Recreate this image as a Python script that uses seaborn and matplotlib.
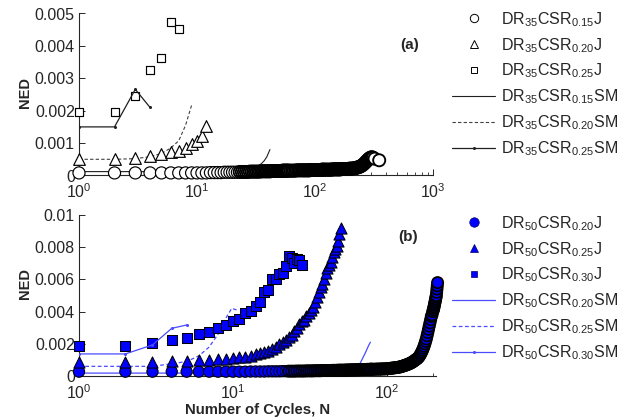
import matplotlib
matplotlib.use("Agg")
import matplotlib.pyplot as plt
from matplotlib.lines import Line2D
from matplotlib.ticker import NullFormatter, FuncFormatter
import seaborn as sns

# ---------------- data: panel (a) DR35 ----------------
a_cyc_015J = [1, 2, 3, 4, 5, 6, 7, 8, 9, 10, 11, 12, 13, 14, 15, 16, 17, 18, 19, 20,
              21, 22, 23, 24, 25, 26, 27, 28, 29, 30, 31, 32, 33, 34, 35, 36, 37, 38, 39, 40,
              41, 42, 43, 44, 45, 46, 47, 48, 49, 50, 51, 52, 53, 54, 55, 56, 57, 58, 59, 60,
              62, 64, 66, 68, 70, 72, 74, 76, 78, 80,
              82, 84, 86, 88, 90, 92, 94, 96, 98, 100,
              102, 104, 106, 108, 110, 112, 114, 116, 118, 120,
              123, 126, 129, 132, 135, 138, 141, 144, 147, 150,
              153, 156, 159, 162, 165, 168, 171, 174, 177, 180,
              183, 186, 189, 192, 195, 198, 201,
              205, 210, 215, 220, 225, 230, 235, 240, 245, 250,
              255, 260, 265, 270, 275, 280, 285, 290, 295, 300,
              305, 310, 320, 350]
a_ned_015J = [0.00008, 0.00008, 0.00008, 0.00008, 0.00008, 0.00008, 0.00008, 0.00008, 0.00008, 0.00008,
              0.00008, 0.00008, 0.00009, 0.00009, 0.00009, 0.00009, 0.00010, 0.00010, 0.00010, 0.00010,
              0.00010, 0.00010, 0.00011, 0.00011, 0.00011, 0.00011, 0.00011, 0.00012, 0.00012, 0.00012,
              0.00012, 0.00012, 0.00012, 0.00012, 0.00013, 0.00013, 0.00013, 0.00013, 0.00013, 0.00013,
              0.00013, 0.00013, 0.00014, 0.00014, 0.00014, 0.00014, 0.00014, 0.00014, 0.00014, 0.00014,
              0.00014, 0.00014, 0.00015, 0.00015, 0.00015, 0.00015, 0.00015, 0.00015, 0.00015, 0.00015,
              0.00015, 0.00015, 0.00015, 0.00015, 0.00016, 0.00016, 0.00016, 0.00016, 0.00016, 0.00016,
              0.00016, 0.00016, 0.00016, 0.00016, 0.00016, 0.00017, 0.00017, 0.00017, 0.00017, 0.00017,
              0.00017, 0.00017, 0.00017, 0.00017, 0.00017, 0.00017, 0.00018, 0.00018, 0.00018, 0.00018,
              0.00018, 0.00018, 0.00018, 0.00018, 0.00018, 0.00018, 0.00019, 0.00019, 0.00019, 0.00019,
              0.00019, 0.00019, 0.00019, 0.00019, 0.00019, 0.00020, 0.00020, 0.00020, 0.00020, 0.00020,
              0.00020, 0.00020, 0.00020, 0.00020, 0.00021, 0.00021, 0.00021,
              0.00021, 0.00022, 0.00022, 0.00023, 0.00024, 0.00025, 0.00026, 0.00027, 0.00029, 0.00031,
              0.00033, 0.00036, 0.00039, 0.00042, 0.00045, 0.00048, 0.00051, 0.00053, 0.00055, 0.00056,
              0.00056, 0.00055, 0.00052, 0.00047]

a_cyc_020J = [1, 2, 3, 4, 5, 6, 7, 8, 9, 10, 11, 12]
a_ned_020J = [0.00050, 0.00050, 0.00054, 0.00060, 0.00065, 0.00071, 0.00077, 0.00086,
              0.00096, 0.00108, 0.00122, 0.00153]

a_cyc_025J = [1, 2, 3, 4, 5, 6, 7]
a_ned_025J = [0.00195, 0.00195, 0.00245, 0.00325, 0.00362, 0.00474, 0.00452]

a_cyc_015SM = [1, 5, 10, 15, 20, 23, 26, 29, 31, 33, 35, 37, 39, 41.5]
a_ned_015SM = [0.00012, 0.00012, 0.00012, 0.00012, 0.00013, 0.00015, 0.00018, 0.00022,
               0.00026, 0.00030, 0.00036, 0.00045, 0.00057, 0.00080]

a_cyc_020SM = [1, 2, 3, 4, 5, 6, 7, 8, 9]
a_ned_020SM = [0.00050, 0.00050, 0.00052, 0.00058, 0.00068, 0.00085, 0.00107, 0.00155, 0.00217]

a_cyc_025SM = [1, 2, 3, 4]
a_ned_025SM = [0.00150, 0.00150, 0.00266, 0.00210]

# ---------------- data: panel (b) DR50 ----------------
b_cyc_020J = [1, 2, 3, 4, 5, 6, 7, 8, 9, 10, 11, 12, 13, 14, 15, 16, 17, 18, 19, 20,
              21, 22, 23, 24, 25, 26, 27, 28, 29, 30, 31, 32, 33, 34, 35, 36, 37, 38, 39, 40,
              41, 42, 43, 44, 45, 46, 47, 48, 49, 50, 51, 52, 53, 54, 55, 56, 57, 58, 59, 60,
              61, 62, 63, 64, 65, 66, 67, 68, 69, 70, 71, 72, 73, 74, 75, 76, 77, 78, 79, 80,
              82, 84, 86, 88, 90, 92, 94, 96, 98, 100,
              102, 104, 106, 108, 110, 112, 114, 116, 118, 120,
              122, 124, 126, 128, 130, 132, 134, 136, 138, 140,
              142, 144, 146, 148, 150, 152, 154, 156, 158, 160,
              162, 164, 166, 168, 170, 172, 174, 176, 178, 180,
              182, 184, 186, 188, 190, 192, 194, 196, 198, 200,
              201, 202, 203, 204, 205, 206, 207, 208, 209, 210, 211, 212, 213]
b_ned_020J = [0.00027, 0.00027, 0.00027, 0.00027, 0.00027, 0.00027, 0.00027, 0.00027, 0.00027, 0.00027,
              0.00027, 0.00027, 0.00028, 0.00028, 0.00028, 0.00028, 0.00029, 0.00029, 0.00029, 0.00029,
              0.00030, 0.00030, 0.00030, 0.00030, 0.00030, 0.00031, 0.00031, 0.00031, 0.00031, 0.00032,
              0.00032, 0.00032, 0.00032, 0.00033, 0.00033, 0.00033, 0.00033, 0.00034, 0.00034, 0.00034,
              0.00034, 0.00034, 0.00034, 0.00035, 0.00035, 0.00035, 0.00035, 0.00036, 0.00036, 0.00036,
              0.00036, 0.00036, 0.00036, 0.00037, 0.00037, 0.00037, 0.00037, 0.00038, 0.00038, 0.00038,
              0.00038, 0.00038, 0.00038, 0.00039, 0.00039, 0.00039, 0.00039, 0.00040, 0.00040, 0.00040,
              0.00040, 0.00040, 0.00040, 0.00041, 0.00041, 0.00041, 0.00041, 0.00042, 0.00042, 0.00042,
              0.00042, 0.00042, 0.00043, 0.00043, 0.00043, 0.00044, 0.00044, 0.00044, 0.00045, 0.00045,
              0.00046, 0.00047, 0.00048, 0.00049, 0.00050, 0.00051, 0.00052, 0.00053, 0.00054, 0.00055,
              0.00057, 0.00059, 0.00061, 0.00063, 0.00065, 0.00067, 0.00070, 0.00072, 0.00074, 0.00077,
              0.00080, 0.00083, 0.00086, 0.00090, 0.00094, 0.00098, 0.00102, 0.00106, 0.00110, 0.00115,
              0.00122, 0.00130, 0.00140, 0.00150, 0.00160, 0.00172, 0.00185, 0.00200, 0.00215, 0.00230,
              0.00250, 0.00270, 0.00290, 0.00310, 0.00330, 0.00350, 0.00370, 0.00380, 0.00400, 0.00410,
              0.00420, 0.00430, 0.00440, 0.00450, 0.00460, 0.00470, 0.00480, 0.00490, 0.00500,
              0.00520, 0.00540, 0.00560, 0.00580]

b_cyc_025J = [1, 2, 3, 4, 5, 6, 7, 8, 9, 10, 11, 12, 13, 14, 15, 16, 17, 18, 19, 20,
              21, 22, 23, 24, 25, 26, 27, 28, 29, 30, 31, 32, 33, 34, 35, 36, 37, 38, 39, 40,
              41, 42, 43, 44, 45, 46, 47, 48, 49, 50]
b_ned_025J = [0.00090, 0.00090, 0.00090, 0.00092, 0.00094, 0.00097, 0.00100, 0.00103, 0.00106, 0.00110,
              0.00115, 0.00121, 0.00127, 0.00134, 0.00141, 0.00149, 0.00158, 0.00168, 0.00182, 0.00197,
              0.00213, 0.00225, 0.00240, 0.00255, 0.00280, 0.00300, 0.00320, 0.00340, 0.00350, 0.00370,
              0.00390, 0.00410, 0.00430, 0.00460, 0.00490, 0.00520, 0.00550, 0.00570, 0.00600, 0.00640,
              0.00670, 0.00690, 0.00710, 0.00740, 0.00770, 0.00790, 0.00810, 0.00840, 0.00880, 0.00920]

b_cyc_030J = [1, 2, 3, 4, 5, 6, 7, 8, 9, 10, 11, 12, 13, 14, 15, 16, 17, 18, 19, 20,
              21, 22, 23, 24, 25, 26, 27, 28]
b_ned_030J = [0.00188, 0.00188, 0.00203, 0.00226, 0.00236, 0.00261, 0.00271, 0.00297, 0.00317, 0.00343,
              0.00356, 0.00389, 0.00402, 0.00436, 0.00460, 0.00522, 0.00534, 0.00601, 0.00601, 0.00636,
              0.00638, 0.00684, 0.00746, 0.00735, 0.00700, 0.00727, 0.00720, 0.00690]

b_cyc_020SM = [1, 10, 30, 45, 52, 60, 67, 72, 76, 78]
b_ned_020SM = [0.00018, 0.00018, 0.00022, 0.00030, 0.00040, 0.00054, 0.00080, 0.00140, 0.00190, 0.00210]

b_cyc_025SM = [1, 2, 3, 4, 5, 6, 7, 8, 9, 9.8, 10.6]
b_ned_025SM = [0.00060, 0.00060, 0.00060, 0.00076, 0.00090, 0.00125, 0.00180, 0.00260, 0.00360,
               0.00420, 0.00410]

b_cyc_030SM = [1, 2, 3, 4, 5]
b_ned_030SM = [0.00137, 0.00137, 0.00193, 0.00296, 0.00317]

a_labels = ["DR$_{35}$CSR$_{0.15}$J", "DR$_{35}$CSR$_{0.20}$J", "DR$_{35}$CSR$_{0.25}$J",
            "DR$_{35}$CSR$_{0.15}$SM", "DR$_{35}$CSR$_{0.20}$SM", "DR$_{35}$CSR$_{0.25}$SM"]
b_labels = ["DR$_{50}$CSR$_{0.20}$J", "DR$_{50}$CSR$_{0.25}$J", "DR$_{50}$CSR$_{0.30}$J",
            "DR$_{50}$CSR$_{0.20}$SM", "DR$_{50}$CSR$_{0.25}$SM", "DR$_{50}$CSR$_{0.30}$SM"]
a_yticks = [0, 0.001, 0.002, 0.003, 0.004, 0.005]
b_yticks = [0, 0.002, 0.004, 0.006, 0.008, 0.01]

# ---------------- style ----------------
sns.set_style("ticks")
plt.rcParams["font.family"] = ["Liberation Sans", "DejaVu Sans"]
plt.rcParams["mathtext.fontset"] = "custom"
plt.rcParams["mathtext.rm"] = "Liberation Sans"
plt.rcParams["mathtext.it"] = "Liberation Sans:italic"
plt.rcParams["mathtext.bf"] = "Liberation Sans:bold"

TXT = "#262626"
BLUE = "#0000ff"
LBLUE = "#4a4aff"
W, H = 623, 419

fig = plt.figure(figsize=(6.23, 4.19), dpi=100)
ax_a = fig.add_axes([79 / W, 1 - 175.5 / H, (433 - 79) / W, (175.5 - 13.5) / H])
ax_b = fig.add_axes([79 / W, 1 - 376 / H, (436 - 79) / W, (376 - 215) / H])

# outline width: thin where markers stand apart, heavier where they pile into a band
a_edge = [0.85 if n <= 22 else 1.35 for n in a_cyc_015J]
b_edge = [0.75 if n <= 22 else 1.25 for n in b_cyc_020J]

# ---- panel (a)
sns.lineplot(x=a_cyc_015SM, y=a_ned_015SM, ax=ax_a, color="#202020", lw=0.8,
             estimator=None, sort=False, legend=False, zorder=2)
sns.lineplot(x=a_cyc_020SM, y=a_ned_020SM, ax=ax_a, color="#404040", lw=0.8,
             linestyle=(0, (3, 2)), estimator=None, sort=False, legend=False, zorder=2)
sns.lineplot(x=a_cyc_025SM, y=a_ned_025SM, ax=ax_a, color="#202020", lw=0.9, marker="o",
             markersize=2.2, markeredgewidth=0, estimator=None, sort=False, legend=False, zorder=4)
sns.scatterplot(x=a_cyc_015J, y=a_ned_015J, ax=ax_a, marker="o", s=8.7 ** 2, color="white",
                edgecolor="black", linewidth=a_edge, clip_on=False, legend=False, zorder=3)
sns.scatterplot(x=a_cyc_020J, y=a_ned_020J, ax=ax_a, marker="^", s=8.4 ** 2, color="white",
                edgecolor="black", linewidth=0.85, clip_on=False, legend=False, zorder=3)
sns.scatterplot(x=a_cyc_025J, y=a_ned_025J, ax=ax_a, marker="s", s=6.0 ** 2, color="white",
                edgecolor="black", linewidth=0.85, clip_on=False, legend=False, zorder=3)

# ---- panel (b)
sns.lineplot(x=b_cyc_020SM, y=b_ned_020SM, ax=ax_b, color=LBLUE, lw=0.9,
             estimator=None, sort=False, legend=False, zorder=2)
sns.lineplot(x=b_cyc_025SM, y=b_ned_025SM, ax=ax_b, color=LBLUE, lw=0.9,
             linestyle=(0, (3, 2)), estimator=None, sort=False, legend=False, zorder=2)
sns.lineplot(x=b_cyc_030SM, y=b_ned_030SM, ax=ax_b, color=LBLUE, lw=0.9, marker="o",
             markersize=2.2, markeredgewidth=0, estimator=None, sort=False, legend=False, zorder=4)
sns.scatterplot(x=b_cyc_020J, y=b_ned_020J, ax=ax_b, marker="o", s=8.1 ** 2, color=BLUE,
                edgecolor="black", linewidth=b_edge, clip_on=False, legend=False, zorder=3)
sns.scatterplot(x=b_cyc_025J, y=b_ned_025J, ax=ax_b, marker="^", s=8.0 ** 2, color=BLUE,
                edgecolor="black", linewidth=0.75, clip_on=False, legend=False, zorder=3)
sns.scatterplot(x=b_cyc_030J, y=b_ned_030J, ax=ax_b, marker="s", s=6.6 ** 2, color=BLUE,
                edgecolor="black", linewidth=0.75, clip_on=False, legend=False, zorder=3)

yfmt = FuncFormatter(lambda v, p: "0" if abs(v) < 1e-12 else f"{v:g}")
for ax, xmax, yt in [(ax_a, 1000, a_yticks), (ax_b, 208, b_yticks)]:
    ax.set_xscale("log")
    ax.set_xlim(1, xmax)
    ax.set_ylim(yt[0], yt[-1])
    ax.set_yticks(yt)
    ax.yaxis.set_major_formatter(yfmt)
    ax.xaxis.set_minor_formatter(NullFormatter())
    sns.despine(ax=ax)
    for s in ("left", "bottom"):
        ax.spines[s].set_color(TXT)
        ax.spines[s].set_linewidth(0.8)
    ax.tick_params(axis="both", which="major", direction="in", length=4, width=0.7,
                   colors=TXT, labelsize=11.5, labelcolor=TXT)
    ax.tick_params(axis="x", which="major", pad=5)
    ax.tick_params(axis="y", which="major", pad=3)
    ax.tick_params(axis="x", which="minor", direction="in", length=2.5, width=0.6, colors=TXT)
    ax.tick_params(axis="y", which="minor", left=False)
    ax.set_xlabel("")
    ax.set_ylabel("")
    ax.set_facecolor("none")

# ---- legends
a_handles = [
    Line2D([], [], ls="none", marker="o", ms=6.0, mfc="white", mec="black", mew=0.7),
    Line2D([], [], ls="none", marker="^", ms=6.0, mfc="white", mec="black", mew=0.7),
    Line2D([], [], ls="none", marker="s", ms=4.2, mfc="white", mec="black", mew=0.7),
    Line2D([], [], color="#202020", lw=0.8),
    Line2D([], [], color="#404040", lw=0.8, ls=(0, (3, 2))),
    Line2D([], [], color="#202020", lw=0.9, marker="o", ms=2.2, mew=0),
]
b_handles = [
    Line2D([], [], ls="none", marker="o", ms=6.8, mfc=BLUE, mec="#000060", mew=0.5),
    Line2D([], [], ls="none", marker="^", ms=6.4, mfc=BLUE, mec="#000060", mew=0.5),
    Line2D([], [], ls="none", marker="s", ms=4.8, mfc=BLUE, mec="#000060", mew=0.5),
    Line2D([], [], color=LBLUE, lw=0.9),
    Line2D([], [], color=LBLUE, lw=0.9, ls=(0, (3, 2))),
    Line2D([], [], color=LBLUE, lw=0.9, marker="o", ms=2.2, mew=0),
]
for ax, hs, labs, ytop in [(ax_a, a_handles, a_labels, 10), (ax_b, b_handles, b_labels, 214)]:
    leg = ax.legend(hs, labs, loc="upper left", bbox_to_anchor=(452 / W, 1 - ytop / H),
                    bbox_transform=fig.transFigure, frameon=False, fontsize=11.5,
                    handlelength=2.7, handletextpad=0.35, labelspacing=0.45,
                    borderpad=0, borderaxespad=0)
    for t in leg.get_texts():
        t.set_color(TXT)

# ---- panel tags and axis labels
fig.text(410 / W, 1 - 45 / H, "(a)", ha="center", va="center", fontsize=11,
         fontweight="bold", color=TXT)
fig.text(408 / W, 1 - 237 / H, "(b)", ha="center", va="center", fontsize=11,
         fontweight="bold", color=TXT)
fig.text(25 / W, 1 - 92 / H, "NED", rotation=90, ha="center", va="center", fontsize=10.5,
         fontweight="bold", color=TXT)
fig.text(25 / W, 1 - 283 / H, "NED", rotation=90, ha="center", va="center", fontsize=10.5,
         fontweight="bold", color=TXT)
fig.text(258 / W, 1 - 410 / H, "Number of Cycles, N", ha="center", va="center",
         fontsize=10.7, fontweight="bold", color=TXT)

fig.savefig("out.png", dpi=100)
